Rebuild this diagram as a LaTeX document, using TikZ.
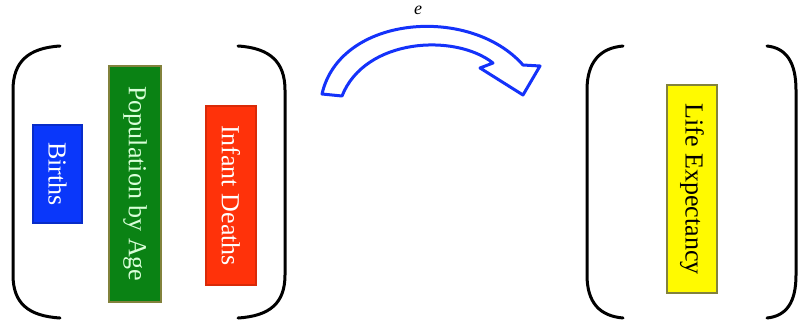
\documentclass[tikz,border=0pt]{standalone}
\usepackage{fontspec}
\setmainfont{Liberation Serif}
\definecolor{bblue}{RGB}{10,55,250}
\definecolor{bgreen}{RGB}{10,130,20}
\definecolor{bred}{RGB}{255,50,10}
\definecolor{byellow}{RGB}{255,250,0}
\definecolor{olive2}{RGB}{130,130,60}
\definecolor{arrblue}{RGB}{20,50,250}
\begin{document}
\begin{tikzpicture}[x=1pt,y=-1pt,
  vbox/.style={rectangle,rotate=-90,inner sep=0pt,font=\fontsize{26}{28}\selectfont,line width=1.5pt},
  brk/.style={line width=3pt,line cap=round,black}]
\useasboundingbox (0,0) rectangle (799,329);
% brackets
\draw[brk] (60,46) .. controls (28,48) and (13,62) .. (13,90) -- (13,275) .. controls (13,303) and (28,316) .. (60,318);
\draw[brk] (238,46) .. controls (270,48) and (285,62) .. (285,90) -- (285,275) .. controls (285,303) and (270,316) .. (238,318);
\draw[brk] (623,46) .. controls (600,48) and (587,62) .. (587,90) -- (587,275) .. controls (587,303) and (600,316) .. (623,318);
\draw[brk] (767,46) .. controls (786,48) and (796,62) .. (796,90) -- (796,275) .. controls (796,303) and (786,316) .. (767,318);
% boxes
\node[vbox,fill=bblue,draw=bblue!80!black,text=white,minimum width=98pt,minimum height=49pt] (births) at (57.5,174) {Births};
\node[vbox,fill=bgreen,draw=olive2,text=green!15!white,minimum width=236pt,minimum height=52pt] (pop) at (135,184) {Population by Age};
\node[vbox,fill=bred,draw=bred!85!black,text=white,minimum width=179pt,minimum height=50pt] (inf) at (231,195.5) {Infant Deaths};
\node[vbox,fill=byellow,draw=olive2,line width=2.5pt,text=black,minimum width=208pt,minimum height=50pt] (life) at (692,189) {Life Expectancy};
% arrow
\draw[arrblue,line width=3pt,fill=white,line join=round] (322,94) .. controls (340,15) and (470,5) .. (523,65) -- (540,66) -- (523,95) -- (480,68) -- (493,63) .. controls (455,33) and (365,38) .. (342,96) -- cycle;
\node[font=\fontsize{18}{20}\selectfont\itshape,inner sep=0pt] (elabel) at (418,10) {e};
\end{tikzpicture}
\end{document}
